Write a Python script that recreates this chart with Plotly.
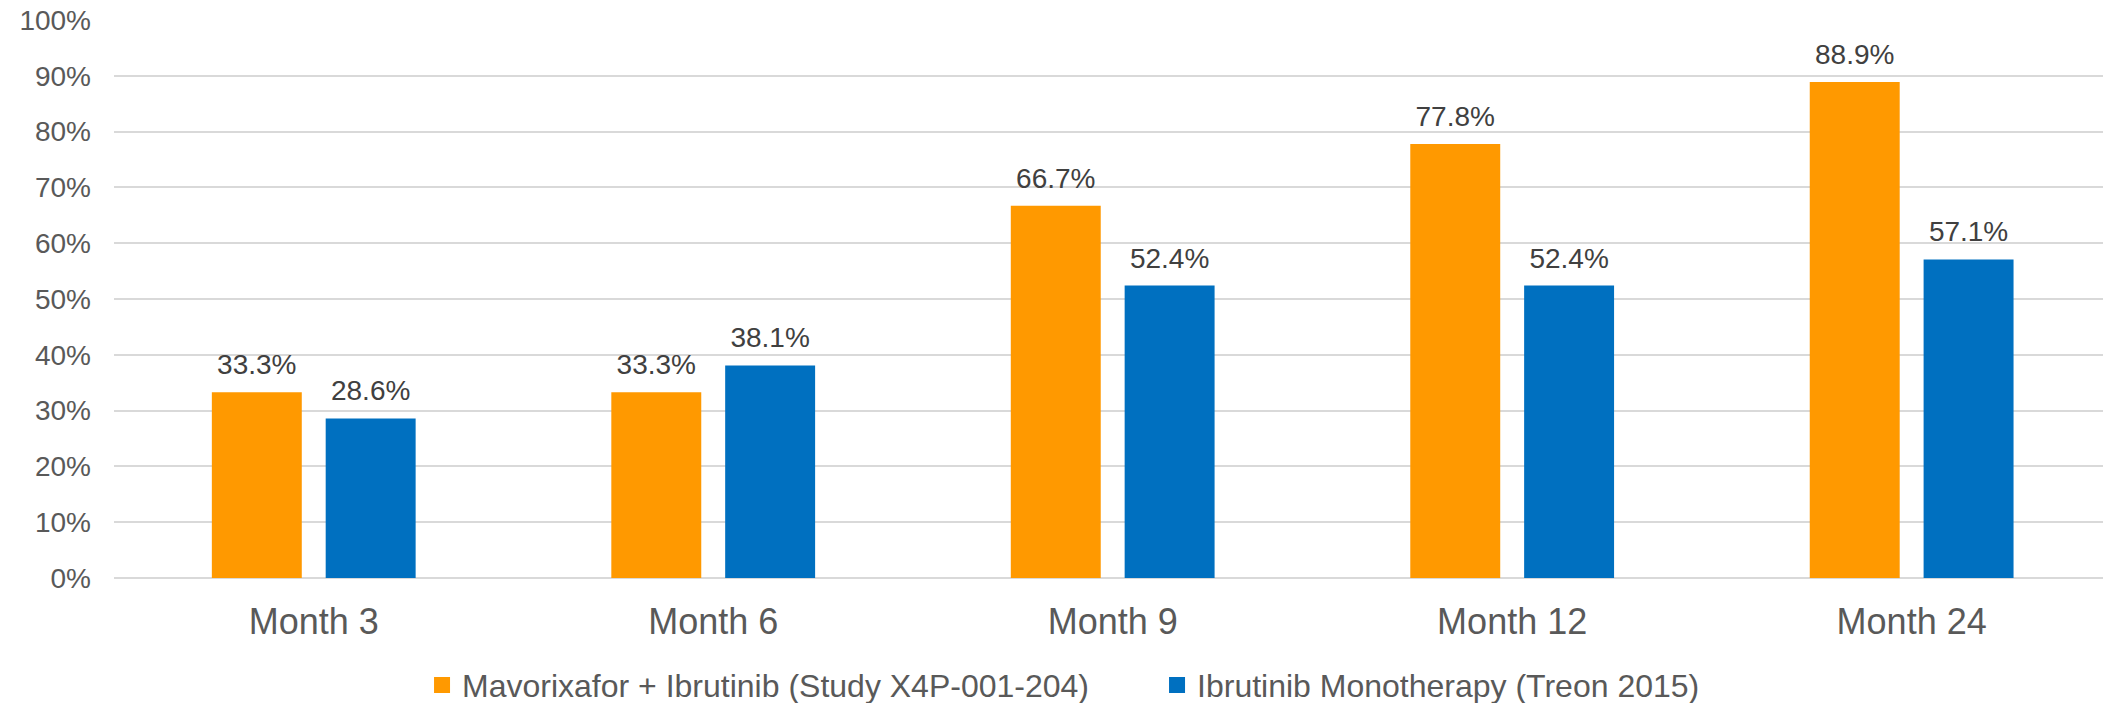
import plotly.graph_objects as go

categories = ["Month 3", "Month 6", "Month 9", "Month 12", "Month 24"]
series_names = ["Mavorixafor + Ibrutinib (Study X4P-001-204)",
                "Ibrutinib Monotherapy (Treon 2015)"]
mavorixafor = [0.333, 0.333, 0.667, 0.778, 0.889]
ibrutinib = [0.286, 0.381, 0.524, 0.524, 0.571]
y_ticks = [0, 0.1, 0.2, 0.3, 0.4, 0.5, 0.6, 0.7, 0.8, 0.9, 1.0]

FONT = "Liberation Sans, Arial, sans-serif"
colors = ["#FF9900", "#0070C0"]

fig = go.Figure()
for i, (name, vals, col) in enumerate(zip(series_names, [mavorixafor, ibrutinib], colors)):
    fig.add_trace(go.Bar(
        x=categories, y=vals, name=name,
        marker=dict(color=col, line=dict(width=0)),
        offsetgroup=str(i), showlegend=False, legendgroup=str(i),
    ))
for i, vals in enumerate([mavorixafor, ibrutinib]):
    fig.add_trace(go.Scatter(
        x=categories, y=vals, mode="markers+text",
        text=[f"{v*100:.1f}%" for v in vals],
        textposition="top center",
        textfont=dict(family=FONT, size=28, color="#404040"),
        marker=dict(size=16, opacity=0),
        offsetgroup=str(i), showlegend=False, hoverinfo="skip",
        cliponaxis=False,
    ))
# legend entries with square swatches
for i, (name, col) in enumerate(zip(series_names, colors)):
    fig.add_trace(go.Scatter(
        x=[None], y=[None], mode="markers", name=name,
        marker=dict(symbol="square", size=16, color=col),
        offsetgroup=str(i), legendgroup=str(i), showlegend=True,
    ))

W, H = 2103, 703
fig.update_layout(
    width=W, height=H,
    margin=dict(l=114, r=0, t=20, b=125, autoexpand=False),
    paper_bgcolor="white", plot_bgcolor="white",
    barmode="group", bargap=0.43, bargroupgap=0.21,
    scattermode="group", scattergap=0.43,
    font=dict(family=FONT, color="#595959"),
    showlegend=True,
    hovermode=False,
    legend=dict(orientation="h", x=0.5244, xanchor="center",
                y=-0.192, yanchor="middle",
                font=dict(family=FONT, size=32, color="#595959"),
                itemwidth=30, traceorder="normal", itemsizing="trace",
                entrywidth=690, entrywidthmode="pixels"),
)
fig.update_xaxes(
    type="category", range=[-0.5, 4.479],
    showgrid=False, showline=False, zeroline=False,
    tickfont=dict(family=FONT, size=36, color="#595959"),
    ticks="", ticklabelstandoff=19,
)
fig.update_yaxes(
    range=[0, 1], tickvals=y_ticks, tickformat=".0%",
    showgrid=True, gridcolor="#D9D9D9", gridwidth=1.5,
    zeroline=True, zerolinecolor="#D9D9D9", zerolinewidth=1.5,
    showline=False,
    tickfont=dict(family=FONT, size=28, color="#595959"),
    ticks="", ticklabelstandoff=22,
)

fig.write_html("out.html")
